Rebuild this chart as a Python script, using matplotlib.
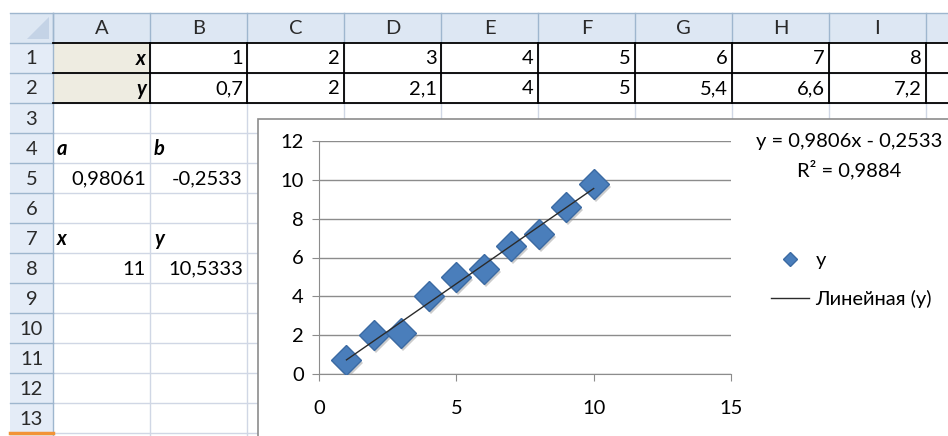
""" Excel-like sheet with a scatter chart and linear trendline """

import numpy as np
import matplotlib
matplotlib.use('Agg')
from matplotlib import pyplot as plt
from matplotlib.patches import Rectangle, Polygon
import matplotlib.transforms as mtransforms

plt.rcParams['font.family'] = ['Lato', 'Open Sans', 'DejaVu Sans']

# data
x_vals = np.arange(1, 11)
y_vals = np.array([0.7, 2, 2.1, 4, 5, 5.4, 6.6, 7.2, 8.6, 9.8])
x_new = 11
col_letters = ['A', 'B', 'C', 'D', 'E', 'F', 'G', 'H', 'I']
row_numbers = list(range(1, 14))
x_ticks = [0, 5, 10, 15]
y_ticks = [0, 2, 4, 6, 8, 10, 12]
series_name = 'y'
trend_name = 'Линейная (y)'

# least squares fit, as the sheet does
a, b = np.polyfit(x_vals, y_vals, 1)
y_new = a * x_new + b
r2 = np.corrcoef(x_vals, y_vals)[0, 1] ** 2


def comma(v, nd=None):
    """ number as Excel with russian locale shows it """
    if nd is None:
        s = f'{int(v)}' if float(v).is_integer() else f'{v:g}'
    else:
        s = f'{v:.{nd}f}'
    return s.replace('.', ',')


W, H = 948, 436
fig = plt.figure(figsize=(W / 100, H / 100), dpi=100)
sheet = fig.add_axes([0, 0, 1, 1])
sheet.set_xlim(0, W)
sheet.set_ylim(H, 0)
sheet.axis('off')

hdr_top = 13
row_h = 30
col_w = 97
rh_left, rh_right = 10, 53
grid_c = '#d0d7e5'
hdr_line = '#9eb6ce'
fs = 14.5

# headers
sheet.add_patch(Rectangle((rh_left, hdr_top), W, row_h, fc='#dde7f3', ec='none'))
sheet.add_patch(Rectangle((rh_left, hdr_top + row_h), rh_right - rh_left, H,
                          fc='#e4ecf7', ec='none'))
sheet.plot([rh_left, W], [hdr_top, hdr_top], color=hdr_line, lw=1)
sheet.add_patch(Polygon([[rh_right - 4, hdr_top + 4], [rh_right - 4, hdr_top + row_h - 4],
                         [rh_right - 26, hdr_top + row_h - 4]], fc='#c4d3e6', ec='none'))

col_edges = [rh_right + col_w * k for k in range(len(col_letters) + 2)]
row_edges = [hdr_top + row_h * k for k in range(len(row_numbers) + 2)]

# cell gridlines
for yy in row_edges[2:]:
    sheet.plot([rh_right, W], [yy, yy], color=grid_c, lw=1)
for xx in col_edges[1:]:
    sheet.plot([xx, xx], [hdr_top + row_h, H], color=grid_c, lw=1)

# header separators
for xx in col_edges:
    sheet.plot([xx, xx], [hdr_top, hdr_top + row_h], color=hdr_line, lw=1)
for yy in row_edges[1:]:
    sheet.plot([rh_left, rh_right], [yy, yy], color=hdr_line, lw=1)
sheet.plot([rh_right, rh_right], [hdr_top, H], color=hdr_line, lw=1)
sheet.plot([rh_left, rh_right], [H - 3, H - 3], color='#f29436', lw=2.5)

for i, letter in enumerate(col_letters):
    sheet.text((col_edges[i] + col_edges[i + 1]) / 2, hdr_top + row_h / 2 + 1, letter,
               ha='center', va='center', fontsize=fs, color='#2a2a2a')
for i, rn in enumerate(row_numbers):
    sheet.text((rh_left + rh_right) / 2, row_edges[i + 1] + row_h / 2 + 1, str(rn),
               ha='center', va='center', fontsize=fs, color='#2a2a2a')

# beige label cells and black table borders
sheet.add_patch(Rectangle((col_edges[0], row_edges[1]), col_w, 2 * row_h,
                          fc='#eeece1', ec='none'))
for yy in row_edges[1:4]:
    sheet.plot([col_edges[0], W], [yy, yy], color='black', lw=1.3)
for xx in col_edges[1:]:
    sheet.plot([xx, xx], [row_edges[1], row_edges[3]], color='black', lw=1.3)


def cell_text(col, row, s, align='right', bold=False):
    """ put text into a cell, col and row zero based from A1 """
    if align == 'right':
        xx = col_edges[col + 1] - 4
    else:
        xx = col_edges[col] + 4
    sheet.text(xx, row_edges[row + 1] + row_h / 2 + 1, s, ha=align, va='center',
               fontsize=fs, color='black',
               fontweight='bold' if bold else 'normal',
               fontstyle='italic' if bold else 'normal')


cell_text(0, 0, 'x', bold=True)
cell_text(0, 1, 'y', bold=True)
for i in range(len(col_letters) - 1):
    cell_text(i + 1, 0, comma(x_vals[i]))
    cell_text(i + 1, 1, comma(y_vals[i]))
cell_text(0, 3, 'a', align='left', bold=True)
cell_text(1, 3, 'b', align='left', bold=True)
cell_text(0, 4, comma(a, 5))
cell_text(1, 4, comma(b, 4))
cell_text(0, 6, 'x', align='left', bold=True)
cell_text(1, 6, 'y', align='left', bold=True)
cell_text(0, 7, comma(x_new))
cell_text(1, 7, comma(y_new, 4))

# chart area, above the sheet gridlines
sheet.add_patch(Rectangle((258, 119), 800, 400, fc='white', ec='#8c8c8c', lw=1.2,
                          zorder=10))

ax = fig.add_axes([319 / W, 1 - 374 / H, (731 - 319) / W, (374 - 141) / H])
ax.set_xlim(0, 15)
ax.set_ylim(0, 12)
ax.set_xticks(x_ticks)
ax.set_yticks(y_ticks)
ax.yaxis.grid(True, color='#8c8c8c', lw=1)
ax.set_axisbelow(True)
for side in ['top', 'right']:
    ax.spines[side].set_visible(False)
for side in ['left', 'bottom']:
    ax.spines[side].set_color('#8c8c8c')
ax.tick_params(axis='both', direction='out', length=5, color='#8c8c8c',
               labelsize=fs, labelcolor='black')
ax.tick_params(axis='x', pad=14)
ax.tick_params(axis='y', pad=6)

shadow = mtransforms.offset_copy(ax.transData, fig=fig, x=2, y=-3, units='dots')
ax.plot(x_vals, y_vals, 'D', ms=15, color='#9a9a9a', alpha=0.5, mew=0,
        transform=shadow, zorder=3)
ax.plot(x_vals, y_vals, 'D', ms=15, mfc='#4a7ebb', mec='#3b6aa3', mew=1,
        label=series_name, zorder=4)
ax.plot(x_vals, a * x_vals + b, color='#2b2b2b', lw=1, label=trend_name, zorder=5)

sign = '-' if b < 0 else '+'
fig.text(849 / W, 1 - 142 / H, f'y = {comma(a, 4)}x {sign} {comma(abs(b), 4)}',
         ha='center', va='center', fontsize=fs)
fig.text(849 / W, 1 - 170 / H, f'R² = {comma(r2, 4)}', ha='center', va='center',
         fontsize=fs)

fig.legend(*ax.get_legend_handles_labels(), loc='center left',
           bbox_to_anchor=(753 / W, 1 - 280 / H), frameon=False, fontsize=fs,
           markerscale=0.5, handlelength=1.9, labelspacing=1.0, handletextpad=0.3)

fig.savefig('out.png', dpi=100)
